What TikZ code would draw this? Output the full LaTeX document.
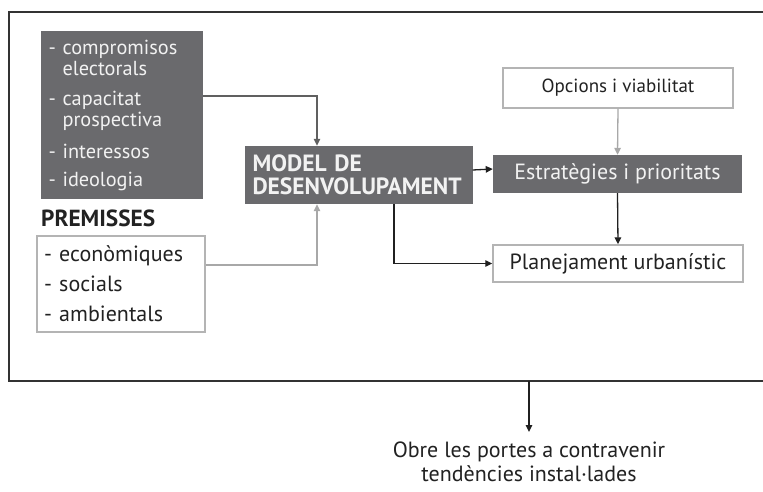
\documentclass[tikz,border=0pt]{standalone}
\usepackage{fontspec}
\setmainfont{PT Sans}
\usetikzlibrary{arrows.meta}
\definecolor{darkfill}{HTML}{6A6A6D}
\definecolor{lighttext}{HTML}{F2F2F2}
\definecolor{boxline}{HTML}{B4B4B4}
\definecolor{grayarrow}{HTML}{A8A8A8}
\definecolor{midarrow}{HTML}{606060}
\definecolor{blackarrow}{HTML}{202020}
\definecolor{framec}{HTML}{333333}
\definecolor{txt}{HTML}{222222}
\tikzset{
  darkbox/.style={fill=darkfill, draw=none, text=lighttext, inner sep=0pt},
  lightbox/.style={fill=white, draw=boxline, line width=1.4pt, text=txt, inner sep=0pt},
  conn/.style={line width=1.3pt, -{Triangle[length=7pt,width=6.5pt]}},
  grayconn/.style={conn, draw=grayarrow, -{Triangle[length=7pt,width=6.5pt,fill=grayarrow]}},
  midconn/.style={conn, draw=midarrow},
  blackconn/.style={conn, draw=blackarrow},
  txtfont/.style={font=\fontsize{21.5}{24}\selectfont}
}
\begin{document}
\begin{tikzpicture}[x=1pt,y=-1pt, txtfont]
\useasboundingbox (0,0) rectangle (763,492);
\fill[white] (0,0) rectangle (763,492);
\draw[framec, line width=1.3pt] (763,12) -- (9,12) -- (9,381) -- (763,381);

% left dark box
\node[darkbox, minimum width=162pt, minimum height=168pt, text width=147pt,
      align=left, inner xsep=7.5pt, font=\fontsize{20.3}{21}\selectfont] (d1) at (122,115)
  {- compromisos\\\hphantom{- }electorals\\[9pt]- capacitat\\\hphantom{- }prospectiva\\[11pt]- interessos\\[7pt]- ideologia};

\node[anchor=base west, inner sep=0pt, text=txt, font=\fontsize{23.3}{24}\selectfont\bfseries] (prem) at (41,226) {PREMISSES};

\node[lightbox, minimum width=168pt, minimum height=96pt, text width=154pt,
      align=left, inner xsep=7pt, font=\fontsize{22}{30}\selectfont] (p1) at (121,284)
  {- econòmiques\\- socials\\- ambientals};

\node[darkbox, minimum width=227pt, minimum height=58pt, text width=212pt,
      align=left, inner xsep=8pt, font=\fontsize{23.5}{23}\selectfont\bfseries] (model) at (358.5,175)
  {MODEL DE\\DESENVOLUPAMENT};

\node[lightbox, minimum width=230pt, minimum height=40pt, font=\fontsize{19}{22}\selectfont] (opc) at (618,88) {Opcions i viabilitat};
\node[darkbox, minimum width=249pt, minimum height=38pt, font=\fontsize{22}{24}\selectfont] (estr) at (617.5,174) {Estratègies i prioritats};
\node[lightbox, minimum width=250pt, minimum height=37pt, font=\fontsize{22}{24}\selectfont] (plan) at (618,263.5) {Planejament urbanístic};

\coordinate (fb) at (529,381);
\node[anchor=north, inner sep=0pt, align=center, text=txt, font=\fontsize{22}{24}\selectfont] (obre) at (529,442)
  {Obre les portes a contravenir\\tendències instal·lades};

% connectors
\draw[midconn] ([yshift=19pt]d1.east) -| ([xshift=-41.5pt]model.north);
\draw[grayconn] ([yshift=19pt]p1.east) -| ([xshift=-41.5pt]model.south);
\draw[grayconn] (opc.south) -- (estr.north);
\draw[blackconn] ([yshift=5pt]model.east) -- ([yshift=5pt]estr.west);
\draw[blackconn] (estr.south) -- (plan.north);
\draw[blackconn] ([xshift=35.5pt]model.south) |- (plan.west);
\draw[blackconn] (fb) -- ++(0,51);
\end{tikzpicture}
\end{document}
